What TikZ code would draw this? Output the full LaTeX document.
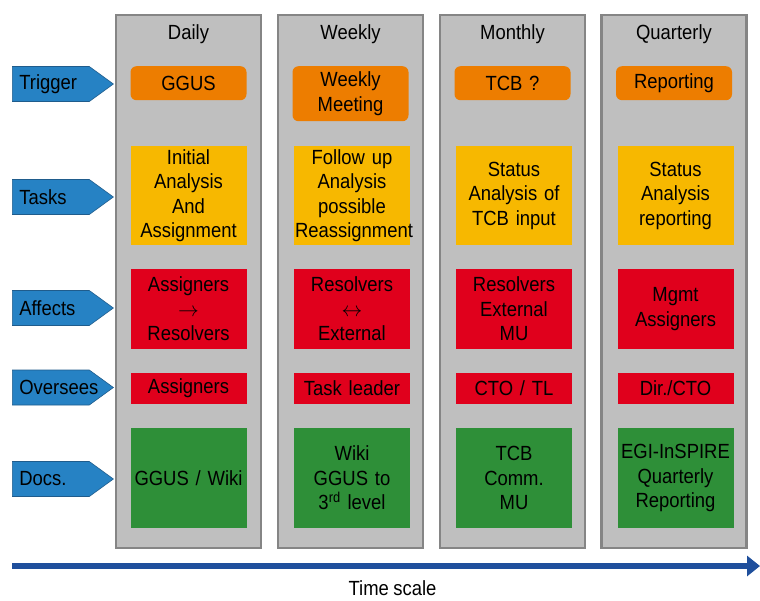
\documentclass[tikz,border=0pt]{standalone}
\usepackage{fontspec}
\setmainfont{Liberation Sans}[FakeStretch=0.9, WordSpace=0.85]
\usepackage{tikz}
\usetikzlibrary{shapes.symbols,arrows.meta}
\definecolor{colgray}{rgb}{0.75,0.75,0.75}
\definecolor{framegray}{rgb}{0.52,0.52,0.52}
\definecolor{trigorange}{rgb}{0.93,0.49,0.0}
\definecolor{taskyellow}{rgb}{0.97,0.72,0.0}
\definecolor{affred}{rgb}{0.88,0.0,0.11}
\definecolor{docgreen}{rgb}{0.18,0.56,0.22}
\definecolor{tagblue}{rgb}{0.15,0.51,0.77}
\definecolor{tagedge}{rgb}{0.12,0.36,0.55}
\definecolor{timeblue}{rgb}{0.12,0.31,0.61}

\begin{document}
\begin{tikzpicture}[x=1pt, y=-1pt,
every node/.style={font=\fontsize{20.5}{24.5}\selectfont},
column/.style={draw=framegray, line width=2.5pt, fill=colgray, minimum width=145pt, minimum height=533pt},
box/.style={text width=114pt, inner xsep=1pt, inner ysep=0pt, align=center},
trig/.style={box, fill=trigorange, rounded corners=6pt, minimum height=34pt, anchor=north},
task/.style={box, fill=taskyellow, minimum height=99pt},
aff/.style={box, fill=affred, minimum height=80pt},
ovr/.style={box, fill=affred, minimum height=31pt},
doc/.style={box, fill=docgreen, minimum height=100pt},
tag/.style={signal, signal to=east, signal pointer angle=72, fill=tagblue, draw=tagedge, line width=0.6pt, minimum height=35pt, minimum width=96pt, text width=63pt, inner xsep=7pt, align=left, anchor=west}]
\useasboundingbox (0,0) rectangle (760,600);

\node [column] (col1) at (188.5,281.5) {};
\node [column] (col2) at (350.5,281.5) {};
\node [column] (col3) at (512.5,281.5) {};
\node [column] (col4) at (674,281.5) {};

\node (h1) at (188.5,34) {Daily};
\node (h2) at (350.5,34) {Weekly};
\node (h3) at (512.5,34) {Monthly};
\node (h4) at (674,34) {Quarterly};

\node [trig] (trig1) at (188.5,66) {GGUS};
\node [trig, minimum height=55pt] (trig2) at (350.5,66) {Weekly\\Meeting};
\node [trig] (trig3) at (512.5,66) {TCB ?};
\node [trig] (trig4) at (674,66) {Reporting};

\node [task] (task1) at (188.5,195.5) {Initial\\Analysis\\And\\Assignment};
\node [task] (task2) at (352,195.5) {Follow up\\Analysis\\possible\\Reassignment};
\node [task] (task3) at (514,195.5) {Status\\Analysis of\\TCB input};
\node [task] (task4) at (675.5,195.5) {Status\\Analysis\\reporting};

\node [aff] (aff1) at (188.5,309) {Assigners\\$\rightarrow$\\Resolvers};
\node [aff] (aff2) at (352,309) {Resolvers\\$\leftrightarrow$\\External};
\node [aff] (aff3) at (514,309) {Resolvers\\External\\MU};
\node [aff] (aff4) at (675.5,309) {Mgmt\\Assigners};

\node [ovr] (ovr1) at (188.5,388.5) {Assigners};
\node [ovr] (ovr2) at (352,388.5) {Task leader};
\node [ovr] (ovr3) at (514,388.5) {CTO / TL};
\node [ovr] (ovr4) at (675.5,388.5) {Dir./CTO};

\node [doc] (doc1) at (188.5,478) {GGUS / Wiki};
\node [doc] (doc2) at (352,478) {Wiki\\GGUS to\\3\textsuperscript{rd} level};
\node [doc] (doc3) at (514,478) {TCB\\Comm.\\MU};
\node [doc] (doc4) at (675.5,478) {EGI-InSPIRE\\Quarterly\\Reporting};

\node [tag] (trigger) at (12,84) {Trigger};
\node [tag] (tasks) at (12,197) {Tasks};
\node [tag] (affects) at (12,308) {Affects};
\node [tag] (oversees) at (12,387.5) {Oversees};
\node [tag] (docs) at (12,479) {Docs.};

\coordinate (t0) at (12,566);
\coordinate (t1) at (760,566);
\draw [-{Triangle[length=13pt,width=20pt]}, line width=6pt, timeblue] (t0) -- (t1);
\node [inner sep=0pt] (ts) at (392.5,588.5) {Time scale};
\end{tikzpicture}
\end{document}
